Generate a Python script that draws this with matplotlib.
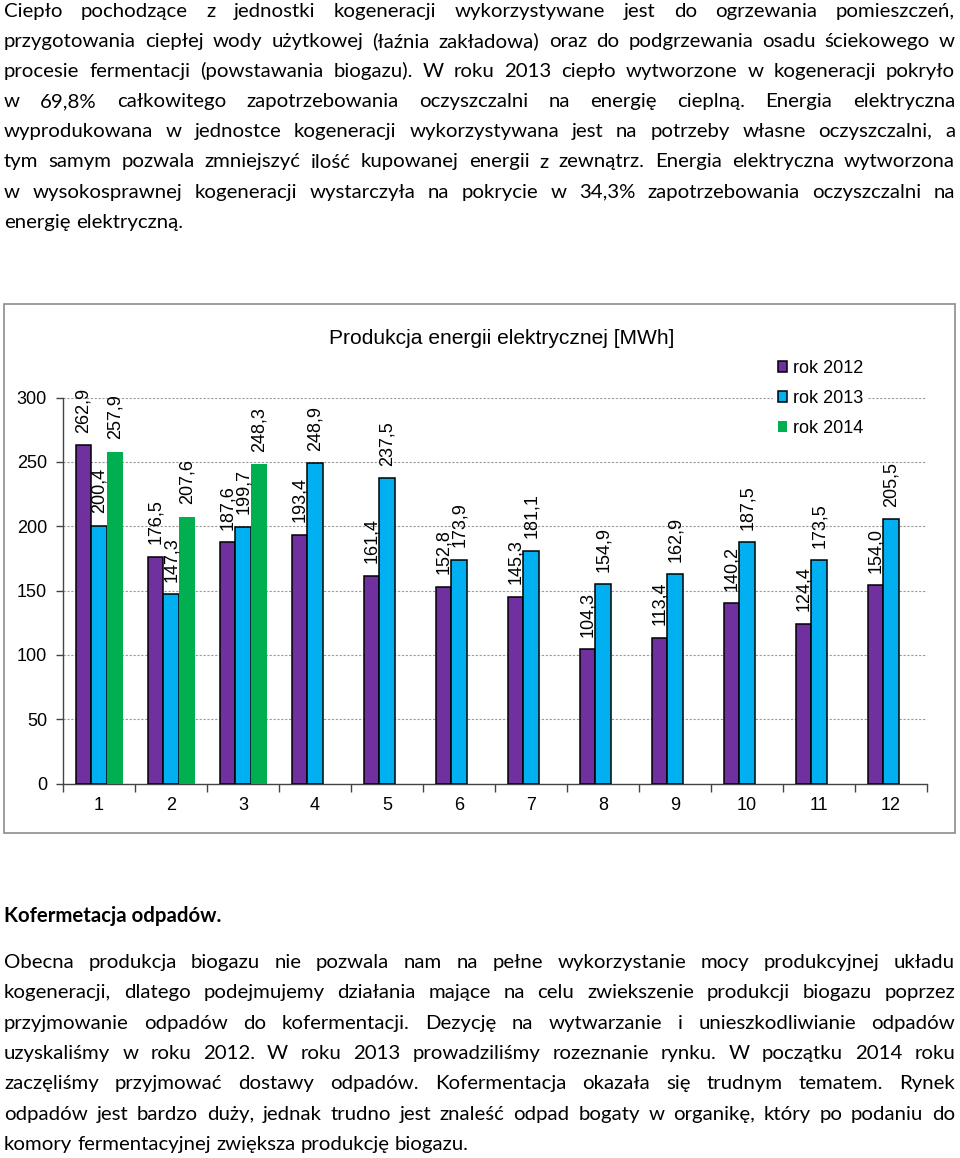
import matplotlib
matplotlib.use('Agg')
import matplotlib.pyplot as plt
from matplotlib.patches import Rectangle
import numpy as np

W, H = 960, 1158

# ---------------- data ----------------
categories = ['1', '2', '3', '4', '5', '6', '7', '8', '9', '10', '11', '12']
rok_2012 = [262.9, 176.5, 187.6, 193.4, 161.4, 152.8, 145.3, 104.3, 113.4, 140.2, 124.4, 154.0]
rok_2013 = [200.4, 147.3, 199.7, 248.9, 237.5, 173.9, 181.1, 154.9, 162.9, 187.5, 173.5, 205.5]
rok_2014 = [257.9, 207.6, 248.3]
series_names = ['rok 2012', 'rok 2013', 'rok 2014']
y_ticks = [0, 50, 100, 150, 200, 250, 300]
chart_title = 'Produkcja energii elektrycznej [MWh]'

top_lines = [
    "Ciepło pochodzące z jednostki kogeneracji wykorzystywane jest do ogrzewania pomieszczeń,",
    "przygotowania ciepłej wody użytkowej (łaźnia zakładowa) oraz do podgrzewania osadu ściekowego w",
    "procesie fermentacji (powstawania biogazu). W roku 2013 ciepło wytworzone w kogeneracji pokryło",
    "w 69,8% całkowitego zapotrzebowania oczyszczalni na energię cieplną. Energia elektryczna",
    "wyprodukowana w jednostce kogeneracji wykorzystywana jest na potrzeby własne oczyszczalni, a",
    "tym samym pozwala zmniejszyć ilość kupowanej energii z zewnątrz.  Energia elektryczna wytworzona",
    "w wysokosprawnej kogeneracji wystarczyła na pokrycie w 34,3% zapotrzebowania oczyszczalni na",
    "energię elektryczną.",
]
heading = "Kofermetacja odpadów."
bottom_lines = [
    "Obecna produkcja biogazu nie pozwala nam na pełne wykorzystanie mocy produkcyjnej układu",
    "kogeneracji, dlatego podejmujemy działania mające na celu zwiekszenie produkcji biogazu poprzez",
    "przyjmowanie odpadów do kofermentacji. Dezycję na wytwarzanie i unieszkodliwianie odpadów",
    "uzyskaliśmy w roku 2012. W roku 2013 prowadziliśmy rozeznanie rynku. W początku 2014 roku",
    "zaczęliśmy przyjmować dostawy odpadów. Kofermentacja okazała się trudnym tematem. Rynek",
    "odpadów jest bardzo duży, jednak trudno jest znaleść odpad bogaty w organikę, który po podaniu do",
    "komory fermentacyjnej zwiększa produkcję biogazu.",
]

# ---------------- style ----------------
colors = ['#7030A0', '#00B0F0', '#00B050']
edges = ['black', 'black', 'none']
chart_font = 'Liberation Sans'
text_font = 'Lato'
text_size = 14.7

fig = plt.figure(figsize=(W / 100, H / 100), dpi=100)
fig.patch.set_facecolor('white')


def fx(x):
    return x / W


def fy(y):
    return 1 - y / H


# chart frame
fig.patches.append(Rectangle((fx(4), fy(833)), 951 / W, 529 / H, transform=fig.transFigure,
                             fill=False, edgecolor='#8c8c8c', lw=1.2, zorder=0))

ax = fig.add_axes([fx(63), fy(783.5), 864 / W, 385.8 / H])
x = np.arange(1, len(categories) + 1)
bw = 0.22
offsets = [-0.215, 0.005, 0.225]
all_series = [rok_2012, rok_2013, rok_2014]
containers = []
for s, (vals, off) in enumerate(zip(all_series, offsets)):
    xs = x[:len(vals)] + off
    c = ax.bar(xs, vals, bw, color=colors[s], edgecolor=edges[s],
               linewidth=1.1 if edges[s] != 'none' else 0, label=series_names[s], zorder=3)
    containers.append(c)
    ax.bar_label(c, labels=[f'{v:.1f}'.replace('.', ',') for v in vals], rotation=90,
                 padding=9, fontsize=13, family=chart_font, color='black', zorder=4)

ax.set_xlim(0.5, len(categories) + 0.5)
ax.set_ylim(0, 300)
ax.set_yticks(y_ticks)
ax.set_xticks(x)
ax.set_xticklabels(categories)
ax.set_xticks(np.arange(0.5, len(categories) + 1, 1), minor=True)
ax.tick_params(axis='x', which='major', length=0, pad=10, labelsize=13)
ax.tick_params(axis='x', which='minor', length=6, color='#444444', width=1, direction='out')
ax.tick_params(axis='y', length=5, color='#444444', width=1, direction='out', pad=6.5, labelsize=13)
for lab in ax.get_xticklabels() + ax.get_yticklabels():
    lab.set_family(chart_font)
ax.yaxis.grid(True, linestyle=(0, (2, 1.5)), color='#9a9a9a', linewidth=0.8, zorder=0)
ax.set_axisbelow(True)
for sp in ['top', 'right']:
    ax.spines[sp].set_visible(False)
for sp in ['left', 'bottom']:
    ax.spines[sp].set_color('#444444')
    ax.spines[sp].set_linewidth(1)
ax.patch.set_alpha(0)

fig.text(fx(502), fy(338), chart_title, ha='center', va='center', fontsize=15.1,
         family=chart_font, color='black')

leg = ax.legend(handles=containers, loc='upper left', bbox_to_anchor=(fx(773), fy(355)),
                bbox_transform=fig.transFigure, frameon=True, fancybox=False, framealpha=1,
                edgecolor='none', handlelength=0.55, handleheight=0.55, handletextpad=0.3,
                labelspacing=0.72, borderpad=0.25, borderaxespad=0,
                prop={'family': chart_font, 'size': 13})
leg.set_zorder(10)

# ---------------- justified paragraphs ----------------
fig.canvas.draw()
renderer = fig.canvas.get_renderer()


def text_width(s, **kw):
    t = fig.text(0, 0, s, **kw)
    w = t.get_window_extent(renderer).width
    t.remove()
    return w


def justified(lines, baselines, left, right, justify_last=False, **kw):
    space = text_width('x x', **kw) - text_width('xx', **kw)
    for i, (line, yb) in enumerate(zip(lines, baselines)):
        words = line.split()
        texts = [fig.text(0, fy(yb), w, ha='left', va='baseline', **kw) for w in words]
        widths = [t.get_window_extent(renderer).width for t in texts]
        last = (i == len(lines) - 1) and not justify_last
        if last or len(words) == 1:
            gap = space
        else:
            gap = (right - left - sum(widths)) / (len(words) - 1)
        xx = left
        for t, w in zip(texts, widths):
            t.set_x(fx(xx))
            xx += w + gap


tkw = dict(family=text_font, fontsize=text_size, color='black')
justified(top_lines, [17 + 30.1 * k for k in range(len(top_lines))], 4, 955, **tkw)
fig.text(fx(4), fy(921.7), heading, ha='left', va='baseline', fontweight='bold', **tkw)
justified(bottom_lines, [968 + 30.35 * k for k in range(len(bottom_lines))], 4, 955, **tkw)

fig.savefig('out.png', dpi=100, facecolor='white')
